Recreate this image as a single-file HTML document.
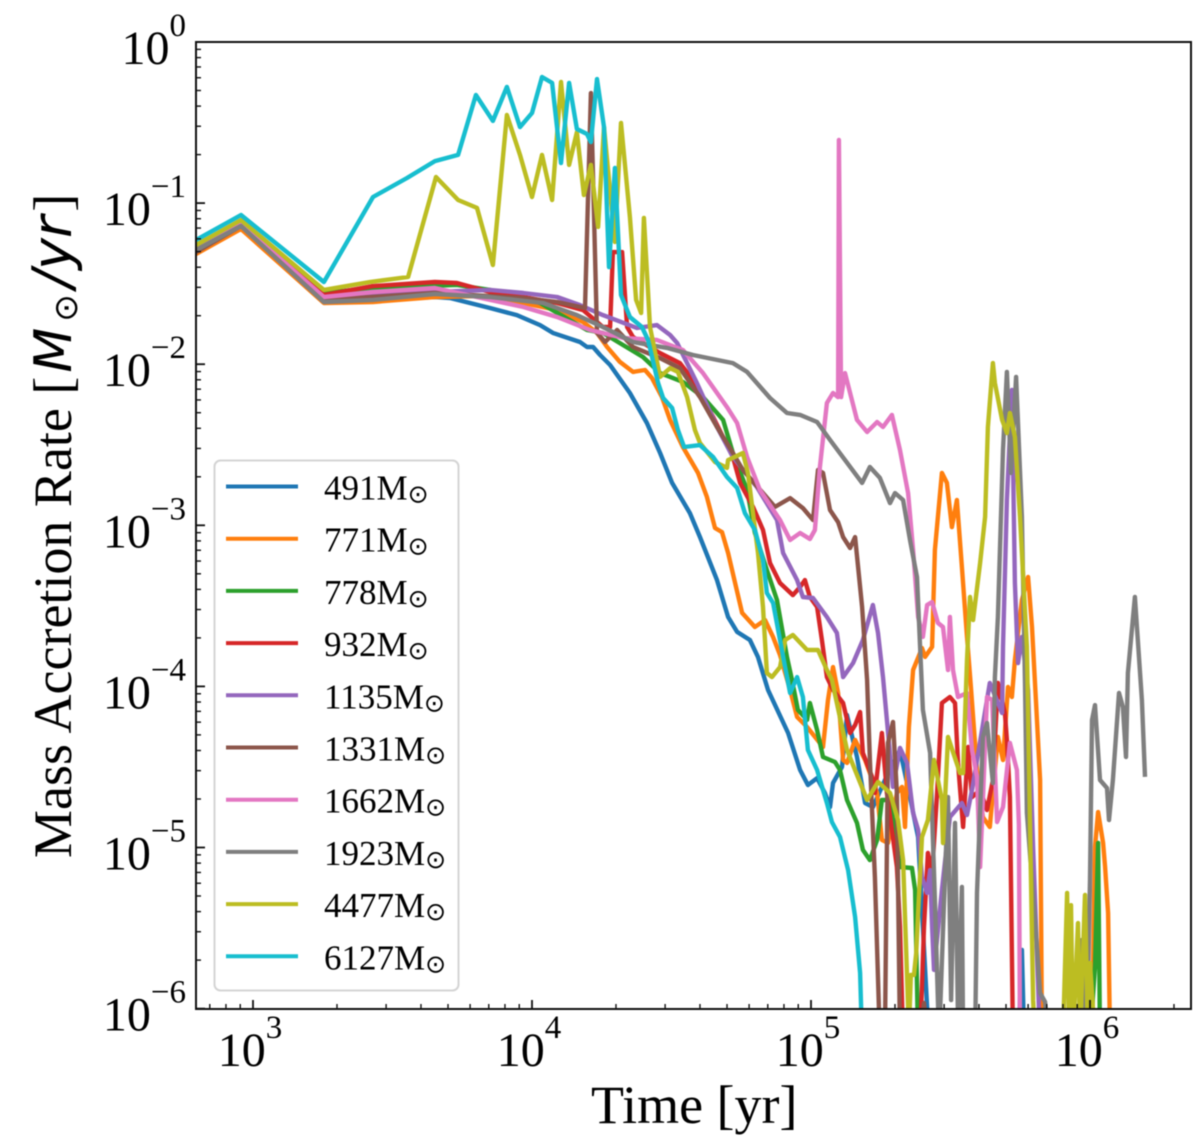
<!DOCTYPE html>
<html>
<head>
<meta charset="utf-8">
<title>Mass Accretion Rate vs Time</title>
<style>
html,body{margin:0;padding:0;background:#fff;}
#chart{display:block;width:1200px;height:1136px;filter:blur(0.5px);}
text{font-family:"Liberation Serif",serif;fill:#000;}
.dv{font-family:"DejaVu Sans",sans-serif;}
.tick-label{font-size:48px;}
</style>
</head>
<body>
<svg id="chart" xmlns="http://www.w3.org/2000/svg" width="1200" height="1136" viewBox="0 0 1200 1136">
<defs><clipPath id="plot-clip"><rect x="196" y="42" width="995" height="967"/></clipPath></defs>
<rect x="196" y="42" width="995" height="967" fill="#fff"/>
<g id="series-layer" clip-path="url(#plot-clip)"></g>
<rect x="196" y="42" width="995" height="967" fill="none" stroke="#111" stroke-width="2"/>
<g id="tick-layer"></g>
<g id="legend-layer"></g>
<text x="591" y="1123" font-size="54">Time [yr]</text>
<text transform="translate(71,858) rotate(-90)" font-size="54">Mass Accretion Rate [<tspan class="dv" font-style="italic" font-size="52" dx="4">M</tspan><tspan class="dv" font-size="33" dx="6" dy="6">⊙</tspan><tspan class="dv" font-style="italic" font-size="54" dx="6" dy="-6">/yr</tspan><tspan dx="4">]</tspan></text>
</svg>
<script>
// Axis ticks (decade exponents)
var xMajorExponents = [3, 4, 5, 6];
var yMajorExponents = [0, -1, -2, -3, -4, -5, -6];
var minorMultipliers = [2, 3, 4, 5, 6, 7, 8, 9];
var xDomain = [2.796, 6.362];
var yDomain = [-6.0, 0];

// Legend
var seriesMasses = ["491", "771", "778", "932", "1135", "1331", "1662", "1923", "4477", "6127"];
var seriesColors = ["#1f77b4", "#ff7f0e", "#2ca02c", "#d62728", "#9467bd", "#8c564b", "#e377c2", "#7f7f7f", "#bcbd22", "#17becf"];

// Series data: log10(time / yr) and log10(rate / Msun per yr)
var logTime491 = [2.796,2.957,3.254,3.430,3.652,3.706,3.849,3.946,4.029,4.075,4.172,4.197,4.219,4.244,4.280,4.351,4.412,4.459,4.502,4.566,4.602,4.663,4.703,4.735,4.781,4.810,4.846,4.918,4.961,4.989,5.022,5.050,5.068,5.079,5.111,5.129,5.165,5.194,5.222,5.265,5.319,5.355,5.384,5.416,5.427,5.745,5.756,5.763];
var logRate491 = [-1.304,-1.148,-1.614,-1.601,-1.583,-1.589,-1.651,-1.695,-1.757,-1.806,-1.862,-1.893,-1.893,-1.943,-2.005,-2.179,-2.365,-2.551,-2.737,-2.924,-3.073,-3.340,-3.569,-3.662,-3.712,-3.818,-4.022,-4.289,-4.519,-4.612,-4.569,-4.662,-4.749,-4.600,-4.500,-4.178,-4.438,-4.724,-4.749,-4.581,-4.395,-4.687,-4.935,-5.990,-6.133,-6.133,-5.636,-6.133];

var logTime771 = [2.796,2.957,3.254,3.430,3.652,3.814,3.969,4.090,4.183,4.233,4.269,4.315,4.362,4.405,4.430,4.466,4.495,4.541,4.595,4.627,4.656,4.681,4.703,4.728,4.753,4.799,4.835,4.864,4.889,4.925,4.950,4.986,5.043,5.061,5.079,5.097,5.115,5.129,5.158,5.194,5.237,5.254,5.276,5.308,5.326,5.337,5.351,5.366,5.398,5.409,5.434,5.444,5.469,5.487,5.505,5.523,5.541,5.559,5.573,5.595,5.616,5.641,5.670,5.688,5.706,5.720,5.731,5.756,5.778,5.792,5.806,5.821,5.828,6.007,6.018,6.029,6.047,6.054,6.065,6.072];
var logRate771 = [-1.316,-1.161,-1.620,-1.614,-1.583,-1.577,-1.620,-1.664,-1.738,-1.806,-1.893,-1.986,-2.048,-2.036,-2.086,-2.204,-2.346,-2.514,-2.675,-2.824,-3.017,-3.042,-3.172,-3.358,-3.544,-3.631,-3.588,-3.694,-3.805,-4.022,-4.190,-4.252,-4.376,-4.084,-3.880,-4.041,-4.457,-4.475,-4.333,-4.457,-4.662,-4.953,-4.972,-4.662,-4.624,-4.873,-4.252,-3.898,-3.762,-3.817,-3.755,-3.153,-2.675,-2.737,-3.011,-2.843,-3.259,-3.693,-4.004,-4.519,-4.811,-4.873,-4.314,-4.457,-4.004,-4.066,-3.836,-3.464,-3.321,-3.631,-4.084,-4.581,-6.195,-6.195,-4.997,-4.780,-4.972,-5.121,-5.407,-6.195];

var logTime778 = [2.796,2.957,3.254,3.430,3.731,3.849,4.029,4.147,4.197,4.254,4.326,4.398,4.459,4.541,4.613,4.685,4.720,4.771,4.799,4.842,4.878,4.914,4.932,4.953,4.986,4.996,5.022,5.043,5.086,5.104,5.129,5.165,5.186,5.211,5.237,5.254,5.283,5.319,5.362,5.373,5.384,6.000,6.018,6.029,6.036];
var logRate778 = [-1.279,-1.117,-1.558,-1.527,-1.508,-1.539,-1.620,-1.738,-1.788,-1.806,-1.881,-1.955,-2.055,-2.110,-2.204,-2.346,-2.551,-2.781,-3.048,-3.278,-3.464,-3.818,-3.960,-4.146,-4.208,-4.103,-4.271,-4.438,-4.469,-4.519,-4.705,-4.848,-5.015,-5.078,-4.953,-4.705,-4.705,-5.121,-5.127,-5.264,-6.195,-6.195,-5.742,-4.972,-6.195];

var logTime932 = [2.796,2.957,3.254,3.430,3.652,3.731,3.849,3.969,4.090,4.183,4.254,4.280,4.290,4.323,4.341,4.362,4.459,4.530,4.577,4.649,4.720,4.746,4.792,4.828,4.853,4.889,4.935,4.961,4.978,4.996,5.022,5.039,5.057,5.079,5.115,5.140,5.158,5.176,5.186,5.219,5.229,5.254,5.272,5.308,5.319,5.330,5.391,5.405,5.419,5.434,5.452,5.469,5.498,5.516,5.527,5.545,5.563,5.577,5.606,5.631,5.652,5.670,5.695,5.702,5.713,5.724];
var logRate932 = [-1.291,-1.130,-1.570,-1.515,-1.490,-1.496,-1.552,-1.583,-1.620,-1.664,-1.769,-1.769,-1.304,-1.304,-1.769,-1.831,-1.931,-1.993,-2.098,-2.328,-2.576,-2.737,-2.886,-3.029,-3.234,-3.358,-3.433,-3.383,-3.340,-3.445,-3.507,-3.712,-3.942,-4.022,-4.103,-4.289,-4.240,-4.159,-4.413,-4.562,-4.662,-4.289,-4.662,-5.121,-5.493,-6.195,-6.195,-5.493,-5.034,-5.158,-4.662,-4.103,-4.066,-4.103,-4.475,-4.873,-4.376,-4.687,-4.643,-4.767,-4.581,-3.979,-4.165,-4.333,-4.687,-6.195];

var logTime1135 = [2.796,2.957,3.254,3.652,3.849,3.969,4.090,4.172,4.254,4.376,4.448,4.495,4.520,4.591,4.663,4.720,4.806,4.878,4.900,4.950,4.971,5.007,5.057,5.093,5.115,5.151,5.186,5.222,5.240,5.258,5.272,5.294,5.319,5.344,5.366,5.384,5.398,5.416,5.427,5.434,5.441,5.469,5.498,5.541,5.559,5.577,5.613,5.641,5.685,5.688,5.702,5.720,5.731,5.742,5.756,5.778,5.796,5.821];
var logRate1135 = [-1.291,-1.130,-1.589,-1.552,-1.539,-1.558,-1.583,-1.633,-1.695,-1.775,-1.757,-1.819,-1.868,-2.117,-2.390,-2.576,-2.762,-2.967,-3.172,-3.340,-3.445,-3.451,-3.569,-3.668,-3.942,-3.855,-3.712,-3.495,-3.668,-3.942,-4.209,-4.624,-4.382,-4.475,-4.786,-4.891,-5.183,-5.282,-5.140,-5.493,-5.760,-5.264,-4.811,-4.724,-4.798,-4.643,-4.271,-3.979,-4.165,-3.755,-2.843,-2.160,-3.358,-3.855,-3.693,-4.022,-4.997,-6.195];

var logTime1331 = [2.796,2.957,3.254,3.652,3.969,4.090,4.190,4.211,4.233,4.262,4.305,4.362,4.459,4.530,4.602,4.663,4.720,4.756,4.828,4.871,4.925,4.971,5.007,5.025,5.043,5.068,5.097,5.115,5.140,5.158,5.183,5.201,5.211,5.229,5.247,5.265,5.276,5.294,5.308,5.319,5.391,5.405,5.419];
var logRate1331 = [-1.304,-1.142,-1.601,-1.558,-1.589,-1.614,-1.651,-0.317,-1.806,-1.862,-1.788,-1.893,-1.962,-2.024,-2.204,-2.390,-2.551,-2.657,-2.800,-2.886,-2.831,-2.893,-2.967,-2.657,-2.675,-2.905,-2.980,-3.073,-3.141,-3.073,-3.507,-3.960,-4.457,-5.183,-6.195,-6.195,-4.351,-4.221,-4.662,-6.195,-6.195,-5.965,-6.195];

var logTime1662 = [2.796,2.957,3.254,3.430,3.652,3.849,3.969,4.090,4.208,4.326,4.448,4.541,4.613,4.699,4.735,4.771,4.817,4.889,4.925,4.961,4.996,5.014,5.032,5.057,5.079,5.097,5.100,5.108,5.122,5.165,5.201,5.237,5.258,5.290,5.319,5.348,5.366,5.384,5.401,5.416,5.434,5.455,5.473,5.491,5.498,5.509,5.527,5.559,5.577,5.595,5.606,5.616,5.631,5.649,5.667,5.688,5.713,5.738,5.745,5.749];
var logRate1662 = [-1.291,-1.130,-1.583,-1.552,-1.527,-1.601,-1.645,-1.707,-1.788,-1.837,-1.850,-1.912,-2.055,-2.266,-2.365,-2.576,-2.781,-2.967,-3.091,-3.048,-3.085,-3.029,-2.638,-2.241,-2.179,-2.204,-0.608,-2.204,-2.055,-2.346,-2.421,-2.359,-2.390,-2.315,-2.533,-2.800,-3.153,-3.569,-3.693,-3.495,-3.476,-3.606,-3.631,-3.898,-3.569,-3.898,-4.066,-4.041,-4.395,-4.562,-5.121,-4.705,-4.066,-4.084,-4.842,-4.749,-4.351,-4.519,-4.860,-6.195];

var logTime1923 = [2.796,2.957,3.254,3.430,3.652,3.849,4.039,4.161,4.254,4.362,4.484,4.577,4.720,4.771,4.853,4.914,4.961,5.022,5.068,5.183,5.211,5.247,5.283,5.301,5.330,5.355,5.380,5.398,5.401,5.427,5.444,5.459,5.477,5.491,5.502,5.516,5.527,5.541,5.545,5.588,5.595,5.616,5.631,5.652,5.659,5.670,5.688,5.702,5.717,5.735,5.756,5.767,5.774,5.810,5.821,5.839,5.849,5.964,5.971,5.982,5.989,6.000,6.007,6.018,6.036,6.061,6.068,6.082,6.104,6.118,6.129,6.136,6.161,6.186,6.197];
var logRate1923 = [-1.291,-1.142,-1.614,-1.601,-1.564,-1.583,-1.620,-1.695,-1.769,-1.862,-1.899,-1.943,-1.993,-2.048,-2.210,-2.303,-2.315,-2.359,-2.470,-2.737,-2.638,-2.706,-2.862,-2.800,-2.843,-3.091,-3.321,-4.022,-4.146,-4.413,-5.326,-6.195,-5.326,-4.687,-5.947,-4.848,-6.071,-5.245,-6.195,-6.195,-5.282,-4.314,-4.227,-4.600,-3.942,-3.569,-2.533,-2.048,-2.675,-2.079,-2.948,-3.979,-4.786,-5.618,-5.903,-5.959,-6.195,-6.195,-5.574,-6.195,-6.195,-5.202,-4.209,-4.116,-4.581,-4.631,-4.829,-4.581,-4.041,-4.128,-4.438,-3.917,-3.445,-4.085,-4.562];

var logTime4477 = [2.796,2.957,3.254,3.419,3.556,3.656,3.735,3.803,3.860,3.910,3.957,4.000,4.036,4.072,4.104,4.133,4.161,4.186,4.211,4.237,4.258,4.297,4.319,4.351,4.373,4.391,4.401,4.423,4.459,4.495,4.523,4.556,4.584,4.602,4.656,4.699,4.703,4.756,4.774,4.792,4.810,4.828,4.842,4.860,4.889,4.907,4.935,4.986,5.025,5.057,5.075,5.129,5.201,5.240,5.283,5.312,5.330,5.344,5.351,5.358,5.369,5.377,5.384,5.398,5.419,5.441,5.469,5.473,5.491,5.534,5.545,5.559,5.570,5.581,5.606,5.624,5.634,5.652,5.659,5.685,5.702,5.713,5.731,5.749,5.774,5.796,5.803,5.903,5.918,5.925,5.932,5.939,5.957,5.964,5.982,5.993,6.000,6.018];
var logRate4477 = [-1.260,-1.105,-1.539,-1.490,-1.459,-0.838,-0.981,-1.030,-1.384,-0.453,-0.701,-0.962,-0.701,-0.981,-0.248,-0.763,-0.559,-0.950,-0.763,-1.148,-0.528,-1.241,-0.503,-1.086,-1.601,-1.682,-1.092,-1.769,-2.079,-2.024,-2.048,-2.204,-2.408,-2.489,-2.607,-2.644,-2.595,-2.551,-2.675,-2.924,-3.172,-3.507,-3.917,-3.942,-3.880,-3.712,-3.681,-3.774,-3.774,-3.898,-3.960,-4.395,-4.705,-4.593,-4.662,-4.829,-5.078,-5.791,-6.133,-5.791,-5.791,-5.655,-5.407,-4.935,-4.829,-4.457,-4.705,-4.972,-4.314,-4.538,-4.538,-3.836,-3.445,-3.588,-3.234,-2.948,-2.390,-1.993,-2.117,-2.346,-2.427,-2.303,-2.452,-2.948,-3.755,-5.947,-6.195,-6.195,-5.282,-6.195,-5.358,-6.195,-5.469,-6.195,-5.295,-6.195,-5.717,-6.195];

var logTime6127 = [2.796,2.957,3.254,3.430,3.552,3.652,3.735,3.799,3.860,3.910,3.957,4.000,4.036,4.072,4.104,4.133,4.161,4.197,4.211,4.233,4.258,4.276,4.297,4.319,4.351,4.394,4.416,4.452,4.470,4.502,4.523,4.545,4.602,4.649,4.699,4.735,4.763,4.799,4.828,4.842,4.864,4.889,4.914,4.925,4.950,4.971,4.989,5.022,5.057,5.075,5.104,5.133,5.158,5.176,5.183];
var logRate6127 = [-1.229,-1.074,-1.490,-0.962,-0.844,-0.739,-0.701,-0.329,-0.490,-0.279,-0.528,-0.441,-0.217,-0.254,-0.751,-0.254,-0.540,-0.571,-0.621,-0.230,-0.528,-1.397,-0.782,-1.570,-1.707,-1.769,-1.850,-2.117,-2.210,-2.272,-2.408,-2.514,-2.502,-2.576,-2.700,-2.768,-2.924,-3.029,-3.215,-3.420,-3.482,-3.712,-3.942,-4.041,-3.942,-4.066,-4.395,-4.519,-4.724,-4.842,-4.935,-5.140,-5.431,-5.779,-6.195];

var seriesTimes = [logTime491, logTime771, logTime778, logTime932, logTime1135, logTime1331, logTime1662, logTime1923, logTime4477, logTime6127];
var seriesRates = [logRate491, logRate771, logRate778, logRate932, logRate1135, logRate1331, logRate1662, logRate1923, logRate4477, logRate6127];

var SVGNS = "http://www.w3.org/2000/svg";
var plot = {left: 196, right: 1191, top: 42, bottom: 1009};
var xAnchor = 253, xPerDecade = 279, yPerDecade = 161.1;

function xScale(logT) { return xAnchor + xPerDecade * (logT - 3); }
function yScale(logR) { return plot.top - yPerDecade * logR; }

function make(tag, parent) {
  var el = document.createElementNS(SVGNS, tag);
  parent.appendChild(el);
  return el;
}

// Series lines
var seriesLayer = document.getElementById("series-layer");
seriesTimes.forEach(function (times, i) {
  var rates = seriesRates[i];
  var pts = [];
  for (var k = 0; k < Math.min(times.length, rates.length); k++) {
    pts.push(xScale(times[k]).toFixed(1) + "," + yScale(rates[k]).toFixed(1));
  }
  var line = make("polyline", seriesLayer);
  
  
  line.setAttribute("points", pts.join(" "));
  line.setAttribute("fill", "none");
  line.setAttribute("stroke", seriesColors[i]);
  line.setAttribute("stroke-width", "4.4");
  line.setAttribute("stroke-linejoin", "round");
});

// Ticks
var tickLayer = document.getElementById("tick-layer");
function xTick(logT, len) {
  var px = xScale(logT);
  if (px < plot.left || px > plot.right) return;
  var t = make("line", tickLayer);
  
  
  t.setAttribute("x1", px); t.setAttribute("x2", px);
  t.setAttribute("y1", plot.bottom); t.setAttribute("y2", plot.bottom - len);
  t.setAttribute("stroke", "#111"); t.setAttribute("stroke-width", len > 6 ? 1.8 : 1.4);
}
function yTick(logR, len) {
  var py = yScale(logR);
  if (py < plot.top || py > plot.bottom) return;
  var t = make("line", tickLayer);
  
  
  t.setAttribute("y1", py); t.setAttribute("y2", py);
  t.setAttribute("x1", plot.left); t.setAttribute("x2", plot.left + len);
  t.setAttribute("stroke", "#111"); t.setAttribute("stroke-width", len > 6 ? 1.8 : 1.4);
}
function powerLabel(x, y, anchor, exponent, name) {
  var t = make("text", tickLayer);
  
  
  t.setAttribute("class", "tick-label");
  t.setAttribute("x", x);
  t.setAttribute("y", y);
  t.setAttribute("text-anchor", anchor);
  t.appendChild(document.createTextNode("10"));
  var s = make("tspan", t);
  s.setAttribute("font-size", "33");
  s.setAttribute("dy", "-28");
  s.textContent = String(exponent).replace("-", "\u2212");
}
for (var e = 2; e <= 6; e++) {
  minorMultipliers.forEach(function (m) { xTick(e + Math.log10(m), 5); });
}
xMajorExponents.forEach(function (e) {
  xTick(e, 9);
  powerLabel(xScale(e) - 3, 1066, "middle", e, "x-tick-label");
});
for (var d = -6; d < 0; d++) {
  minorMultipliers.forEach(function (m) { yTick(d + Math.log10(m), 5); });
}
yMajorExponents.forEach(function (e) {
  yTick(e, 9);
  powerLabel(186, yScale(e) + 22, "end", e, "y-tick-label");
});

// Legend
var legendLayer = document.getElementById("legend-layer");
var legendBox = make("rect", legendLayer);


legendBox.setAttribute("x", 214.5);
legendBox.setAttribute("y", 460.5);
legendBox.setAttribute("width", 244);
legendBox.setAttribute("height", 530);
legendBox.setAttribute("rx", 6);
legendBox.setAttribute("fill", "#fff");
legendBox.setAttribute("stroke", "#d4d4d4");
legendBox.setAttribute("stroke-width", 2);
seriesMasses.forEach(function (mass, i) {
  var rowY = 486.5 + 52.2 * i;
  var swatch = make("line", legendLayer);
  
  
  swatch.setAttribute("x1", 226); swatch.setAttribute("x2", 298);
  swatch.setAttribute("y1", rowY); swatch.setAttribute("y2", rowY);
  swatch.setAttribute("stroke", seriesColors[i]);
  swatch.setAttribute("stroke-width", 4);
  var label = make("text", legendLayer);
  
  
  label.setAttribute("x", 324);
  label.setAttribute("y", rowY + 13);
  label.setAttribute("font-size", 35);
  label.appendChild(document.createTextNode(mass + "M"));
  var sun = make("tspan", label);
  sun.setAttribute("class", "dv");
  sun.setAttribute("font-size", 25);
  sun.setAttribute("dy", 3);
  sun.textContent = "\u2299";
});
</script>
</body>
</html>
